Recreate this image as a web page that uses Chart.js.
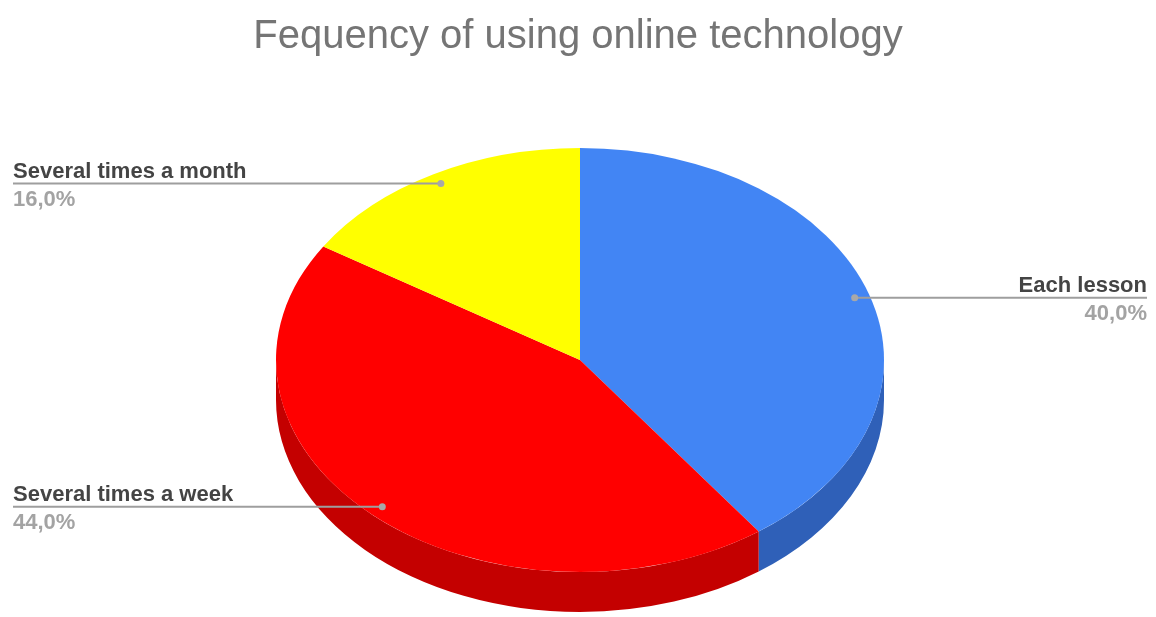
<!DOCTYPE html>
<html>
<head>
<meta charset="utf-8">
<script src="https://cdn.jsdelivr.net/npm/chart.js@4"></script>
<style>
  html, body { margin: 0; padding: 0; background: #ffffff; }
  #wrap { width: 1156px; height: 617px; position: relative; }
</style>
</head>
<body>
<div id="wrap"><canvas id="pieChart"></canvas></div>
<script>
const categories = ['Each lesson', 'Several times a week', 'Several times a month'];
const values = [40, 44, 16];
const valueLabels = ['40,0%', '44,0%', '16,0%'];
const topColors = ['#4285f4', '#ff0000', '#ffff00'];
const sideColors = ['#2f60b8', '#c40000', '#cccc00'];

// ellipse the flat pie is squashed into
const CX = 580, CY = 360, RX = 304, RY = 212, DEPTH = 40;

const pie3d = {
    id: 'pie3d',
    beforeDatasetsDraw(chart) {
        const ctx = chart.ctx;
        const arcs = chart.getDatasetMeta(0).data;
        // side walls (only the front half shows)
        arcs.forEach((arc, i) => {
            const s = Math.max(arc.startAngle, 0);
            const e = Math.min(arc.endAngle, Math.PI);
            if (e <= s) return;
            ctx.beginPath();
            ctx.ellipse(CX, CY, RX, RY, 0, s, e);
            ctx.ellipse(CX, CY + DEPTH, RX, RY, 0, e, s, true);
            ctx.closePath();
            ctx.fillStyle = sideColors[i];
            ctx.fill();
        });
        const a0 = arcs[0];
        ctx.save();
        ctx.translate(CX, CY);
        ctx.scale(RX / a0.outerRadius, RY / a0.outerRadius);
        ctx.translate(-a0.x, -a0.y);
    },
    afterDatasetsDraw(chart) {
        const ctx = chart.ctx;
        ctx.restore();
        const arcs = chart.getDatasetMeta(0).data;
        arcs.forEach((arc, i) => {
            const mid = (arc.startAngle + arc.endAngle) / 2;
            const px = CX + Math.cos(mid) * 0.95 * RX;
            const py = CY + Math.sin(mid) * 0.95 * RY;
            const right = Math.cos(mid) > 0;
            const tx = right ? 1147 : 13;

            ctx.strokeStyle = '#9e9e9e';
            ctx.lineWidth = 2;
            ctx.beginPath();
            ctx.moveTo(px, py);
            ctx.lineTo(tx, py);
            ctx.stroke();

            ctx.fillStyle = '#a8a8a8';
            ctx.beginPath();
            ctx.arc(px, py, 3.5, 0, Math.PI * 2);
            ctx.fill();

            ctx.textAlign = right ? 'right' : 'left';
            ctx.textBaseline = 'alphabetic';
            ctx.font = 'bold 22px "Liberation Sans", Arial, sans-serif';
            ctx.fillStyle = '#444444';
            ctx.fillText(categories[i], tx, py - 6);
            ctx.fillStyle = '#a3a3a3';
            ctx.fillText(valueLabels[i], tx, py + 22);
        });
    }
};

new Chart(document.getElementById('pieChart'), {
    type: 'pie',
    data: {
        labels: categories,
        datasets: [{
            data: values,
            backgroundColor: topColors,
            borderWidth: 0,
            clip: false
        }]
    },
    options: {
        responsive: true,
        maintainAspectRatio: false,
        animation: false,
        events: [],
        layout: { padding: { top: 0, bottom: 10, left: 200, right: 200 } },
        plugins: {
            title: {
                display: true,
                text: 'Fequency of using online technology',
                color: '#757575',
                font: { family: '"Liberation Sans", Arial, sans-serif', size: 40, weight: 'normal' },
                padding: { top: 13, bottom: 10 }
            },
            legend: { display: false },
            tooltip: { enabled: false }
        }
    },
    plugins: [pie3d]
});
</script>
</body>
</html>
